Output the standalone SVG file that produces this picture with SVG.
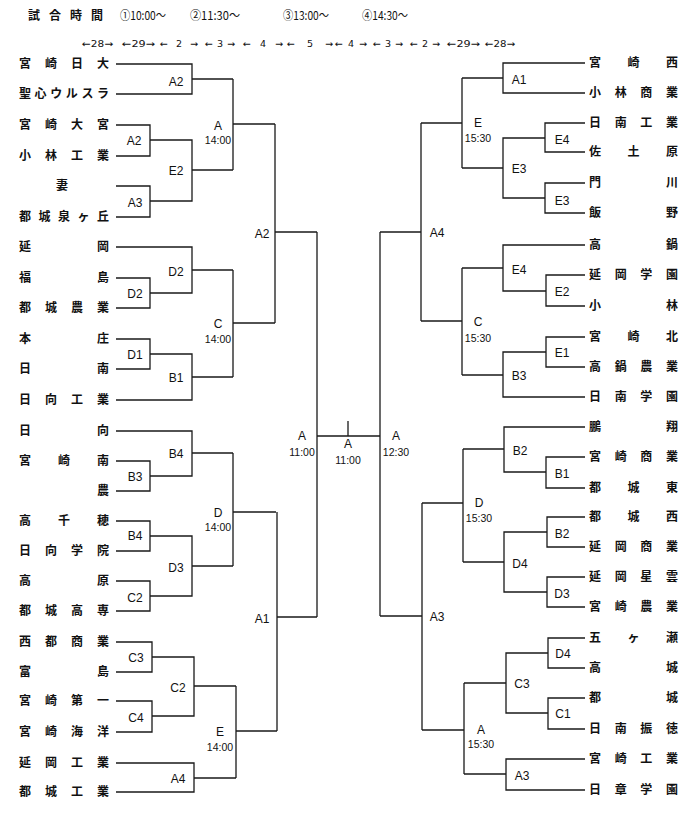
<svg xmlns="http://www.w3.org/2000/svg" width="700" height="816" viewBox="0 0 700 816">
<style>
.bg{fill:#fff}
.ln{fill:none;stroke:#1a1a1a;stroke-width:1.3}
.nm{font-family:"Noto Sans CJK JP","Noto Sans CJK SC",sans-serif;font-size:12px;font-weight:bold;fill:#111}
.lb{font-family:"Liberation Sans",Arial,sans-serif;font-size:12px;text-anchor:middle;fill:#111}
.tm{font-size:10.5px}
.hd{font-family:"Noto Sans CJK JP","Noto Sans CJK SC",sans-serif;font-size:12px;fill:#111}
.ar{font-family:"DejaVu Sans",sans-serif;font-size:9.5px;fill:#111}
</style>
<rect class="bg" x="0" y="0" width="700" height="816"/>
<g id="header">
<text class="hd" x="28" y="20" font-weight="bold" textLength="75" lengthAdjust="spacing">試合時間</text>
<text class="hd" x="120" y="20" textLength="46" lengthAdjust="spacingAndGlyphs">①10:00～</text>
<text class="hd" x="190" y="20" textLength="50" lengthAdjust="spacingAndGlyphs">②11:30～</text>
<text class="hd" x="283" y="20" textLength="46" lengthAdjust="spacingAndGlyphs">③13:00～</text>
<text class="hd" x="362" y="20" textLength="46" lengthAdjust="spacingAndGlyphs">④14:30～</text>
<text class="ar" x="82" y="47" textLength="31" lengthAdjust="spacingAndGlyphs">←28→</text>
<text class="ar" x="122" y="47" textLength="33" lengthAdjust="spacingAndGlyphs">←29→</text>
<text class="ar" x="160" y="47" textLength="38" lengthAdjust="spacing">← 2 →</text>
<text class="ar" x="205" y="47" textLength="30" lengthAdjust="spacing">← 3 →</text>
<text class="ar" x="243" y="47" textLength="40" lengthAdjust="spacing">← 4 →</text>
<text class="ar" x="287" y="47" textLength="46" lengthAdjust="spacing">← 5 →</text>
<text class="ar" x="335" y="47" textLength="32" lengthAdjust="spacing">← 4 →</text>
<text class="ar" x="373" y="47" textLength="30" lengthAdjust="spacing">← 3 →</text>
<text class="ar" x="410" y="47" textLength="30" lengthAdjust="spacing">← 2 →</text>
<text class="ar" x="447" y="47" textLength="33" lengthAdjust="spacingAndGlyphs">←29→</text>
<text class="ar" x="485" y="47" textLength="30" lengthAdjust="spacingAndGlyphs">←28→</text>
</g>
<g id="connectors" class="ln">
<path d="M116 64H192V94H116M192 79H233"/>
<path d="M116 125H150V156H116M116 186H150V217H116M150 140H192V201H150M192 170H233"/>
<path d="M233 79V170M233 124H275"/>
<path d="M116 278H150V308H116M150 293H192V247H116M192 270H233"/>
<path d="M116 339H150V369H116M150 354H192V400H116M192 377H233"/>
<path d="M233 270V377M233 323H275"/>
<path d="M275 124V323M275 232H317"/>
<path d="M116 461H150V491H116M150 476H192V431H116M192 453H233"/>
<path d="M116 521H150V551H116M116 581H150V611H116M150 536H192V596H150M192 566H233"/>
<path d="M233 453V566M233 512H276"/>
<path d="M116 642H152V672H116M116 701H152V732H116M152 657H194V716H152M194 686H236"/>
<path d="M116 763H194V792H116M194 778H236"/>
<path d="M236 686V778M236 731H277"/>
<path d="M277 512V731M277 617H317"/>
<path d="M317 232V617M317 436H380M348 421V436"/>
<path d="M585 63H503V93H585M503 78H462"/>
<path d="M585 123H545V152H585M585 183H545V213H585M545 138H503V198H545M503 168H462"/>
<path d="M462 78V168M462 123H421"/>
<path d="M585 275H546V306H585M546 291H503V245H585M503 268H462"/>
<path d="M585 337H546V367H585M546 352H503V397H585M503 375H462"/>
<path d="M462 268V375M462 321H421"/>
<path d="M421 123V321M421 232H380"/>
<path d="M585 457H546V488H585M546 472H504V427H585M504 449H463"/>
<path d="M585 517H547V547H585M585 577H547V607H585M547 532H504V592H547M504 562H463"/>
<path d="M463 449V562M463 503H422"/>
<path d="M585 638H548V668H585M585 698H548V729H585M548 653H506V713H548M506 683H464"/>
<path d="M585 759H506V790H585M506 774H464"/>
<path d="M464 683V774M464 730H422"/>
<path d="M422 503V730M422 616H380"/>
<path d="M380 232V616"/>
</g>
<g id="left-teams" class="nm">
<g id="L01"><text x="19" y="68" textLength="90" lengthAdjust="spacing">宮崎日大</text></g>
<g id="L02"><text x="19" y="98" textLength="90" lengthAdjust="spacing">聖心ウルスラ</text></g>
<g id="L03"><text x="19" y="129" textLength="90" lengthAdjust="spacing">宮崎大宮</text></g>
<g id="L04"><text x="19" y="160" textLength="90" lengthAdjust="spacing">小林工業</text></g>
<g id="L05"><text x="56" y="190">妻</text></g>
<g id="L06"><text x="19" y="221" textLength="90" lengthAdjust="spacing">都城泉ヶ丘</text></g>
<g id="L07"><text x="19" y="251" textLength="90" lengthAdjust="spacing">延岡</text></g>
<g id="L08"><text x="19" y="282" textLength="90" lengthAdjust="spacing">福島</text></g>
<g id="L09"><text x="19" y="312" textLength="90" lengthAdjust="spacing">都城農業</text></g>
<g id="L10"><text x="19" y="343" textLength="90" lengthAdjust="spacing">本庄</text></g>
<g id="L11"><text x="19" y="373" textLength="90" lengthAdjust="spacing">日南</text></g>
<g id="L12"><text x="19" y="404" textLength="90" lengthAdjust="spacing">日向工業</text></g>
<g id="L13"><text x="19" y="435" textLength="90" lengthAdjust="spacing">日向</text></g>
<g id="L14"><text x="19" y="465" textLength="90" lengthAdjust="spacing">宮崎南</text></g>
<g id="L15"><text x="97" y="495">農</text></g>
<g id="L16"><text x="19" y="525" textLength="90" lengthAdjust="spacing">高千穂</text></g>
<g id="L17"><text x="19" y="555" textLength="90" lengthAdjust="spacing">日向学院</text></g>
<g id="L18"><text x="19" y="585" textLength="90" lengthAdjust="spacing">高原</text></g>
<g id="L19"><text x="19" y="615" textLength="90" lengthAdjust="spacing">都城高専</text></g>
<g id="L20"><text x="19" y="646" textLength="90" lengthAdjust="spacing">西都商業</text></g>
<g id="L21"><text x="19" y="676" textLength="90" lengthAdjust="spacing">富島</text></g>
<g id="L22"><text x="19" y="705" textLength="90" lengthAdjust="spacing">宮崎第一</text></g>
<g id="L23"><text x="19" y="736" textLength="90" lengthAdjust="spacing">宮崎海洋</text></g>
<g id="L24"><text x="19" y="767" textLength="90" lengthAdjust="spacing">延岡工業</text></g>
<g id="L25"><text x="19" y="796" textLength="90" lengthAdjust="spacing">都城工業</text></g>
</g>
<g id="right-teams" class="nm">
<g id="R01"><text x="589" y="67" textLength="89" lengthAdjust="spacing">宮崎西</text></g>
<g id="R02"><text x="589" y="97" textLength="89" lengthAdjust="spacing">小林商業</text></g>
<g id="R03"><text x="589" y="127" textLength="89" lengthAdjust="spacing">日南工業</text></g>
<g id="R04"><text x="589" y="156" textLength="89" lengthAdjust="spacing">佐土原</text></g>
<g id="R05"><text x="589" y="187" textLength="89" lengthAdjust="spacing">門川</text></g>
<g id="R06"><text x="589" y="217" textLength="89" lengthAdjust="spacing">飯野</text></g>
<g id="R07"><text x="589" y="249" textLength="89" lengthAdjust="spacing">高鍋</text></g>
<g id="R08"><text x="589" y="279" textLength="89" lengthAdjust="spacing">延岡学園</text></g>
<g id="R09"><text x="589" y="310" textLength="89" lengthAdjust="spacing">小林</text></g>
<g id="R10"><text x="589" y="341" textLength="89" lengthAdjust="spacing">宮崎北</text></g>
<g id="R11"><text x="589" y="371" textLength="89" lengthAdjust="spacing">高鍋農業</text></g>
<g id="R12"><text x="589" y="401" textLength="89" lengthAdjust="spacing">日南学園</text></g>
<g id="R13"><text x="589" y="431" textLength="89" lengthAdjust="spacing">鵬翔</text></g>
<g id="R14"><text x="589" y="461" textLength="89" lengthAdjust="spacing">宮崎商業</text></g>
<g id="R15"><text x="589" y="492" textLength="89" lengthAdjust="spacing">都城東</text></g>
<g id="R16"><text x="589" y="521" textLength="89" lengthAdjust="spacing">都城西</text></g>
<g id="R17"><text x="589" y="551" textLength="89" lengthAdjust="spacing">延岡商業</text></g>
<g id="R18"><text x="589" y="581" textLength="89" lengthAdjust="spacing">延岡星雲</text></g>
<g id="R19"><text x="589" y="611" textLength="89" lengthAdjust="spacing">宮崎農業</text></g>
<g id="R20"><text x="589" y="642" textLength="89" lengthAdjust="spacing">五ヶ瀬</text></g>
<g id="R21"><text x="589" y="672" textLength="89" lengthAdjust="spacing">高城</text></g>
<g id="R22"><text x="589" y="702" textLength="89" lengthAdjust="spacing">都城</text></g>
<g id="R23"><text x="589" y="733" textLength="89" lengthAdjust="spacing">日南振徳</text></g>
<g id="R24"><text x="589" y="763" textLength="89" lengthAdjust="spacing">宮崎工業</text></g>
<g id="R25"><text x="589" y="794" textLength="89" lengthAdjust="spacing">日章学園</text></g>
</g>
<g id="matches" class="lb">
<g id="mL-A2a"><text x="176" y="86">A2</text></g>
<g id="mL-A2b"><text x="134" y="145">A2</text></g>
<g id="mL-A3"><text x="135" y="207">A3</text></g>
<g id="mL-E2"><text x="176" y="175">E2</text></g>
<g id="mL-A-1400a"><text x="218" y="130">A</text><text class="tm" x="218" y="144">14:00</text></g>
<g id="mL-A2c"><text x="262" y="238">A2</text></g>
<g id="mL-D2a"><text x="176" y="276">D2</text></g>
<g id="mL-D2b"><text x="135" y="298">D2</text></g>
<g id="mL-D1"><text x="135" y="359">D1</text></g>
<g id="mL-B1"><text x="176" y="382">B1</text></g>
<g id="mL-C-1400"><text x="218" y="328">C</text><text class="tm" x="218" y="343">14:00</text></g>
<g id="mL-B4a"><text x="176" y="458">B4</text></g>
<g id="mL-B3"><text x="135" y="481">B3</text></g>
<g id="mL-B4b"><text x="135" y="540">B4</text></g>
<g id="mL-C2a"><text x="135" y="602">C2</text></g>
<g id="mL-D3"><text x="176" y="572">D3</text></g>
<g id="mL-D-1400"><text x="218" y="517">D</text><text class="tm" x="218" y="531">14:00</text></g>
<g id="mL-C3"><text x="136" y="662">C3</text></g>
<g id="mL-C4"><text x="136" y="722">C4</text></g>
<g id="mL-C2b"><text x="178" y="692">C2</text></g>
<g id="mL-A4"><text x="178" y="783">A4</text></g>
<g id="mL-E-1400"><text x="220" y="736">E</text><text class="tm" x="220" y="751">14:00</text></g>
<g id="mL-A1"><text x="262" y="623">A1</text></g>
<g id="mL-A-1100"><text x="302" y="440">A</text><text class="tm" x="302" y="456">11:00</text></g>
<g id="mF-A-1100"><text x="348" y="448">A</text><text class="tm" x="348" y="464">11:00</text></g>
<g id="mR-A-1230"><text x="396" y="440">A</text><text class="tm" x="396" y="456">12:30</text></g>
<g id="mR-A1"><text x="519" y="84">A1</text></g>
<g id="mR-E4a"><text x="562" y="144">E4</text></g>
<g id="mR-E3a"><text x="562" y="205">E3</text></g>
<g id="mR-E3b"><text x="519" y="173">E3</text></g>
<g id="mR-E-1530"><text x="478" y="127">E</text><text class="tm" x="478" y="142">15:30</text></g>
<g id="mR-A4"><text x="437" y="237">A4</text></g>
<g id="mR-E4b"><text x="519" y="274">E4</text></g>
<g id="mR-E2"><text x="562" y="296">E2</text></g>
<g id="mR-E1"><text x="562" y="357">E1</text></g>
<g id="mR-B3"><text x="519" y="380">B3</text></g>
<g id="mR-C-1530"><text x="478" y="326">C</text><text class="tm" x="478" y="342">15:30</text></g>
<g id="mR-B2a"><text x="520" y="455">B2</text></g>
<g id="mR-B1"><text x="562" y="478">B1</text></g>
<g id="mR-B2b"><text x="562" y="538">B2</text></g>
<g id="mR-D3"><text x="562" y="598">D3</text></g>
<g id="mR-D4a"><text x="520" y="568">D4</text></g>
<g id="mR-D-1530"><text x="479" y="507">D</text><text class="tm" x="479" y="522">15:30</text></g>
<g id="mR-A3a"><text x="437" y="621">A3</text></g>
<g id="mR-D4b"><text x="563" y="658">D4</text></g>
<g id="mR-C1"><text x="563" y="718">C1</text></g>
<g id="mR-C3"><text x="522" y="688">C3</text></g>
<g id="mR-A3b"><text x="522" y="780">A3</text></g>
<g id="mR-A-1530"><text x="481" y="734">A</text><text class="tm" x="481" y="748">15:30</text></g>
</g>
</svg>
